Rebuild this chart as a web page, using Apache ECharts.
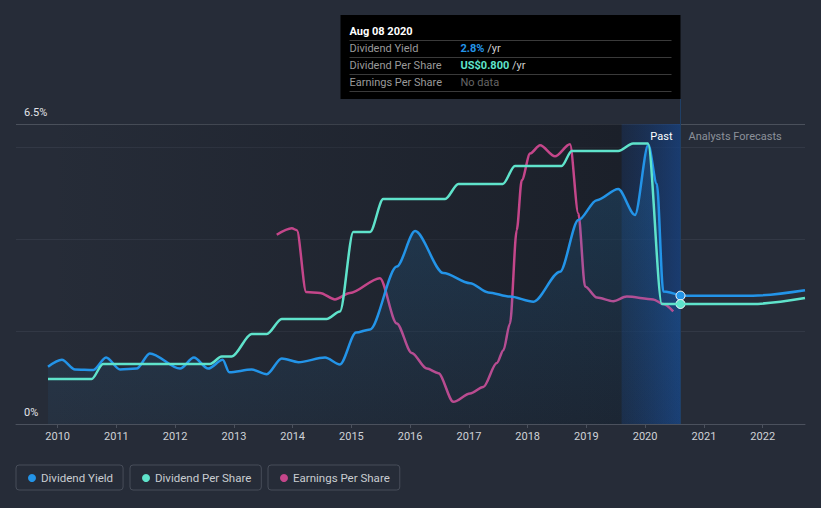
<!DOCTYPE html>
<html><head><meta charset="utf-8">
<script src="https://cdn.jsdelivr.net/npm/echarts@6/dist/echarts.min.js"></script>
<style>html,body{margin:0;padding:0;background:#262c38;}#c{width:821px;height:508px;}</style>
</head><body><div id="c"></div>
<script>
// ---- data ----
const yieldDates = ['2009-11-02','2010-01-27','2010-04-19','2010-08-11','2010-10-29','2011-01-24','2011-05-07','2011-07-28','2012-02-01','2012-04-27','2012-07-25','2012-10-23','2012-12-03','2013-04-21','2013-07-24','2013-10-25','2014-02-06','2014-07-21','2014-10-22','2015-01-30','2015-04-27','2015-10-10','2016-02-01','2016-07-26','2017-01-08','2017-05-01','2017-09-13','2018-02-06','2018-07-21','2018-11-12','2019-03-07','2019-07-18','2019-10-30','2020-01-21','2020-03-14','2020-04-23','2020-08-08'];
const yieldValues = [1.24,1.39,1.18,1.17,1.44,1.18,1.20,1.53,1.20,1.44,1.20,1.39,1.12,1.18,1.08,1.42,1.34,1.44,1.29,1.98,2.05,3.41,4.18,3.27,3.05,2.85,2.76,2.65,3.30,4.42,4.85,5.09,4.53,6.05,5.20,2.87,2.78];
const yieldForecastDates = ['2020-08-08','2021-11-01','2022-09-21'];
const yieldForecastValues = [2.78,2.78,2.90];
const dpsDates = ['2009-11-02','2010-07-31','2010-10-10','2012-08-05','2012-10-17','2012-12-18','2013-04-21','2013-07-24','2013-10-25','2014-07-31','2014-10-22','2015-01-13','2015-04-27','2015-07-18','2016-08-06','2016-10-27','2017-07-30','2017-10-14','2018-07-31','2018-10-02','2019-07-18','2019-10-18','2020-01-19','2020-04-14','2020-08-08','2021-11-01','2022-09-21'];
const dpsValues = [0.30,0.30,0.40,0.40,0.45,0.45,0.60,0.60,0.70,0.70,0.75,1.28,1.28,1.50,1.50,1.60,1.60,1.72,1.72,1.82,1.82,1.87,1.87,0.80,0.80,0.80,0.84];
const epsDates = ['2013-09-24','2013-12-27','2014-01-27','2014-03-26','2014-06-20','2014-09-21','2014-12-23','2015-06-27','2015-10-10','2016-01-11','2016-04-14','2016-06-25','2016-09-26','2017-01-08','2017-03-31','2017-06-23','2017-08-03','2017-09-13','2017-10-25','2017-11-25','2018-01-16','2018-03-19','2018-06-20','2018-09-21','2018-11-12','2018-12-24','2019-03-07','2019-06-17','2019-09-09','2020-02-21','2020-04-23','2020-06-24'];
const epsValues = [2.05,2.12,2.10,1.43,1.42,1.35,1.42,1.58,1.09,0.77,0.60,0.55,0.24,0.33,0.40,0.66,0.80,1.09,2.10,2.64,2.93,3.02,2.90,3.03,2.28,1.49,1.37,1.33,1.38,1.35,1.30,1.22];
const legendNames = ['Dividend Yield','Dividend Per Share','Earnings Per Share'];
const yieldTickLabels = {0:'0%', 6.5:'6.5%'};
const markerDate = '2020-08-08';
const bandStart = '2019-08-08';
const axisMin = '2009-04-17';
const axisMax = '2022-09-21';
const tooltipTitle = 'Aug 08 2020';
const tooltipRows = [
  ['Dividend Yield', '2.8%', ' /yr'],
  ['Dividend Per Share', 'US$0.800', ' /yr'],
  ['Earnings Per Share', 'No data', '']
];

// ---- chart ----
const C = {blue:'#2394e8', teal:'#5fe3cb', pink:'#c4468a'};
const pair = (d, v) => d.map((x, i) => [x, v[i]]);
const valueAt = (d, v, k) => v[d.indexOf(k)];
const LG = echarts.graphic.LinearGradient;
const chart = echarts.init(document.getElementById('c'), null, {renderer:'svg', width:821, height:508});

const dot = (color, value) => ({
  symbol:'circle', symbolSize:9, silent:true,
  label:{show:false},
  itemStyle:{color:color, borderColor:'#ffffff', borderWidth:1},
  data:[{coord:[markerDate, value]}]
});

const lineBase = {type:'line', showSymbol:false, symbol:'none', smooth:0.3, smoothMonotone:'x', silent:true};

const option = {
  backgroundColor:'#262c38',
  animation:false,
  textStyle:{fontFamily:'Roboto, sans-serif'},
  grid:{left:16, right:16, top:124, bottom:84},
  legend: legendNames.map((n, i) => ({
    data:[n], left:[16,130,268][i], top:465, icon:'circle', itemWidth:8, itemHeight:8,
    padding:[7,10,6,12], borderColor:'#474d59', borderWidth:1, borderRadius:3,
    selectedMode:false, textStyle:{color:'#c9ccd1', fontSize:11.5, fontFamily:'Roboto, sans-serif'}
  })),
  xAxis:{
    type:'time', min:axisMin, max:axisMax,
    minInterval:365*864e5, maxInterval:366*864e5,
    axisLine:{lineStyle:{color:'#4b515d'}},
    axisTick:{show:true, length:4, lineStyle:{color:'#4b515d'}},
    axisLabel:{color:'#cfd2d7', fontSize:11, margin:7, formatter:'{yyyy}'},
    splitLine:{show:false}
  },
  yAxis:[
    {type:'value', min:0, max:6.5, interval:2,
     axisLine:{show:false}, axisTick:{show:false},
     axisLabel:{inside:true, margin:8, color:'#e2e4e8', fontSize:11, verticalAlign:'bottom', lineHeight:24,
       formatter: v => yieldTickLabels[v] || ''},
     splitLine:{lineStyle:{color:['#3a404b','#323845','#323845','#323845','#4a505b'], width:1}}},
    {type:'value', min:0, max:2.0, show:false},
    {type:'value', min:0, max:3.25, show:false}
  ],
  series:[
    Object.assign({}, lineBase, {
      name:legendNames[0], yAxisIndex:0, z:4,
      data:pair(yieldDates, yieldValues),
      lineStyle:{color:C.blue, width:2.5}, itemStyle:{color:C.blue},
      areaStyle:{color:new LG(0,0,0,1,[{offset:0,color:'rgba(35,148,232,0.28)'},{offset:1,color:'rgba(35,148,232,0.07)'}])},
      markArea:{silent:true, data:[
        [{xAxis:yieldDates[0], itemStyle:{color:new LG(0,0,1,0,[{offset:0,color:'rgba(18,22,30,0.0)'},{offset:1,color:'rgba(18,22,30,0.6)'}])}}, {xAxis:markerDate}],
        [{xAxis:bandStart, itemStyle:{color:new LG(0,0,1,0,[{offset:0,color:'rgba(25,85,180,0.18)'},{offset:1,color:'rgba(25,100,210,0.42)'}])}}, {xAxis:markerDate}]
      ]},
      markPoint:dot(C.blue, valueAt(yieldDates, yieldValues, markerDate))
    }),
    Object.assign({}, lineBase, {
      name:legendNames[0], yAxisIndex:0, z:4,
      data:pair(yieldForecastDates, yieldForecastValues),
      lineStyle:{color:C.blue, width:2.5}, itemStyle:{color:C.blue}
    }),
    Object.assign({}, lineBase, {
      name:legendNames[1], yAxisIndex:1, z:5,
      data:pair(dpsDates, dpsValues),
      lineStyle:{color:C.teal, width:2.5}, itemStyle:{color:C.teal},
      markLine:{silent:true, symbol:'none', label:{show:false}, lineStyle:{color:'#1f3f66', width:1, type:'solid'},
        data:[{xAxis:markerDate}]},
      markPoint:dot(C.teal, valueAt(dpsDates, dpsValues, markerDate))
    }),
    Object.assign({}, lineBase, {
      name:legendNames[2], yAxisIndex:2, z:3,
      data:pair(epsDates, epsValues),
      lineStyle:{color:C.pink, width:2.5}, itemStyle:{color:C.pink}
    })
  ]
};
chart.setOption(option);

// overlay tooltip / labels positioned from the axis scale
const xm = Math.round(chart.convertToPixel({xAxisIndex:0}, new Date(markerDate + 'T00:00:00').getTime())) + 0.5;
const left = xm - 340;
const g = [];
g.push({type:'rect', shape:{x:left, y:15, width:340, height:84}, style:{fill:'#000000'}});
g.push({type:'text', x:left + 9, y:31, style:{text:tooltipTitle, fill:'#ffffff', font:'bold 11px Roboto, sans-serif', verticalAlign:'middle'}});
[40, 57, 74, 91].forEach(y => g.push({type:'line', shape:{x1:left + 9, y1:y + 0.5, x2:xm - 9, y2:y + 0.5}, style:{stroke:'#3a3a3a', lineWidth:1}}));
const valColors = [C.blue, C.teal, '#666666'];
tooltipRows.forEach((r, i) => {
  const y = 48.5 + i * 17;
  g.push({type:'text', x:left + 9, y:y, style:{text:r[0], fill:'#9a9a9a', font:'11px Roboto, sans-serif', verticalAlign:'middle'}});
  g.push({type:'text', x:left + 120, y:y, style:{
    text:'{v|' + r[1] + '}{u|' + r[2] + '}', verticalAlign:'middle', font:'11px Roboto, sans-serif',
    rich:{v:{fill:valColors[i], font:(i < 2 ? 'bold ' : '') + '11px Roboto, sans-serif'}, u:{fill:'#cfcfcf', font:'11px Roboto, sans-serif'}}
  }});
});
g.push({type:'line', shape:{x1:xm, y1:99, x2:xm, y2:124}, style:{stroke:'#1f3f66', lineWidth:1}});
g.push({type:'text', x:xm - 8, y:136, style:{text:'Past', fill:'#ffffff', font:'11px Roboto, sans-serif', align:'right', verticalAlign:'middle'}});
g.push({type:'text', x:xm + 8, y:136, style:{text:'Analysts Forecasts', fill:'#8c919a', font:'11px Roboto, sans-serif', align:'left', verticalAlign:'middle'}});
g.forEach(e => { e.silent = true; e.z = 100; });
chart.setOption({graphic:g});
</script>
</body></html>
